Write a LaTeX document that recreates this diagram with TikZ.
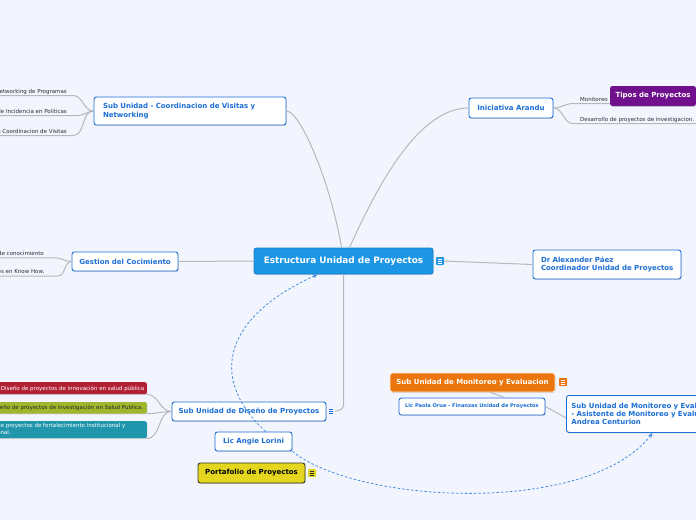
\documentclass[tikz,border=0pt]{standalone}
\usepackage{fontspec}
\setmainfont{DejaVu Sans}
\usetikzlibrary{shadows,arrows.meta}
\definecolor{bg}{RGB}{242,245,253}
\definecolor{nblue}{RGB}{28,110,212}
\definecolor{cfill}{RGB}{30,150,230}
\definecolor{cdraw}{RGB}{22,130,210}
\definecolor{link}{RGB}{182,184,190}
\definecolor{dashc}{RGB}{70,140,225}
\definecolor{subtxt}{RGB}{45,45,55}
\definecolor{purp}{RGB}{112,16,140}
\definecolor{orng}{RGB}{236,118,14}
\definecolor{orngdraw}{RGB}{250,235,215}
\definecolor{yell}{RGB}{228,214,30}
\definecolor{yelldraw}{RGB}{55,55,40}
\definecolor{redb}{RGB}{178,32,52}
\definecolor{oliveb}{RGB}{160,182,44}
\definecolor{tealb}{RGB}{32,150,172}
\newcommand\fTopic{\bfseries\fontsize{7}{8.3}\selectfont}
\newcommand\fCentral{\bfseries\fontsize{8.9}{10}\selectfont}
\newcommand\fSub{\fontsize{5.5}{6.6}\selectfont}
\newcommand\fSmall{\bfseries\fontsize{5.1}{6}\selectfont}
\newcommand\noteicon[4]{%
  \node[fill=#3, minimum size=8pt, inner sep=0pt, rounded corners=0.8pt] (#1) at #2 {};
  \foreach \dy in {-2,0,2}
    \draw[#4, line width=0.7pt] ([xshift=-2.4pt,yshift=\dy pt]#1.center) -- ([xshift=2.4pt,yshift=\dy pt]#1.center);
}
\begin{document}
\begin{tikzpicture}[x=1pt,y=-1pt,
  conn/.style={draw=link, line width=1pt},
  dasharrow/.style={draw=dashc, line width=0.8pt, dash pattern=on 2.5pt off 2pt, -{Stealth[length=5pt,width=4pt]}},
  shad/.style={drop shadow={opacity=0.3, shadow xshift=0.6pt, shadow yshift=-0.9pt}},
  topic/.style={draw=nblue, line width=0.9pt, fill=white, rounded corners=2.5pt, text=nblue, font=\fTopic, inner sep=0pt, shad},
  subt/.style={text=subtxt, font=\fSub, inner sep=0pt},
  cbox/.style={draw=none, rounded corners=2pt, inner sep=0pt, shad},
  ctext/.style={font=\fSub, inner sep=0pt}
]
\useasboundingbox (0,0) rectangle (696,520);
\clip (0,0) rectangle (696,520);
\fill[bg] (0,0) rectangle (696,520);

% ---- main nodes
\node[topic, draw=cdraw, fill=cfill, text=white, font=\fCentral, minimum width=179pt, minimum height=26pt] (central) at (343.5,261) {Estructura Unidad de Proyectos};
\noteicon{icC}{(440,261)}{cfill}{white}

\node[topic, minimum width=148pt, minimum height=29pt, text width=132pt, align=left] (alex) at (607,264.5) {Dr Alexander Páez\\\mbox{Coordinador Unidad de Proyectos}};

\node[topic, minimum width=84pt, minimum height=20pt] (arandu) at (511,108) {Iniciativa Arandu};

\node[topic, minimum width=192pt, minimum height=28pt, text width=174pt, align=left] (coord) at (190,111) {Sub Unidad - Coordinacion de Visitas y\\Networking};

\node[topic, minimum width=106pt, minimum height=19pt] (gestion) at (125,261.5) {Gestion del Cocimiento};

\node[topic, minimum width=154pt, minimum height=19pt] (diseno) at (249,411.5) {Sub Unidad de Diseño de Proyectos};
\node[minimum size=8pt, inner sep=0pt] (icD) at (331,411) {};
\foreach \dy in {-2,0,2}
  \draw[nblue, line width=0.7pt] ([xshift=-2.4pt,yshift=\dy pt]icD.center) -- ([xshift=2.4pt,yshift=\dy pt]icD.center);

\node[topic, minimum width=77pt, minimum height=19pt] (angie) at (253.5,441.5) {Lic Angie Lorini};

\node[topic, draw=yelldraw, fill=yell, text=black, minimum width=107pt, minimum height=20pt] (porta) at (251.5,473) {Portafolio de Proyectos};
\noteicon{icP}{(312,473)}{yell}{black!80}

\node[topic, draw=orngdraw, fill=orng, text=white, minimum width=165pt, minimum height=19pt] (monit) at (472.5,382.5) {Sub Unidad de Monitoreo y Evaluacion};
\noteicon{icM}{(563,382)}{orng}{white}

\node[topic, font=\fSmall, minimum width=146pt, minimum height=17pt] (paola) at (472,406.5) {Lic Paola Orue - Finanzas Unidad de Proyectos};

\node[topic, anchor=north west, minimum width=180pt, minimum height=37pt, text width=170pt, align=left] (andrea) at (566,395) {Sub Unidad de Monitoreo y Evaluacion\\- Asistente de Monitoreo y Evaluacion\\Andrea Centurion};

% ---- Iniciativa subtopics
\node[subt, anchor=base west] (m2) at (580,121) {Desarrollo de proyectos de investigacion.};
\node[subt, anchor=base west] (m1) at (580,101) {Monitoreo};
\draw[conn] (arandu.east) to[out=0,in=180] (573,103.5) -- (610,103.5);
\draw[conn] (arandu.east) to[out=0,in=180] (573,123.5) -- (696,123.5);
\node[cbox, fill=purp, text=white, font=\fTopic, minimum width=86pt, minimum height=20pt, rounded corners=2.5pt] (tipos) at (653,96) {Tipos de Proyectos};

% ---- Coordinacion subtopics
\node[subt, anchor=base east] (s1) at (67,93.3) {Networking de Programas};
\node[subt, anchor=base east] (s2) at (67,113.3) {Unidad de Incidencia en Politicas};
\node[subt, anchor=base east] (s3) at (67,133.3) {Sub Unidad de Coordinacion de Visitas};
\draw[conn] (coord.west) to[out=180,in=0] (73,95.5) -- (0,95.5);
\draw[conn] (coord.west) to[out=180,in=0] (78,115.5) -- (0,115.5);
\draw[conn] (coord.west) to[out=180,in=0] (73,135.5) -- (0,135.5);

% ---- Gestion subtopics
\node[subt, anchor=base east] (g1) at (44,255) {Gestion de conocimiento};
\node[subt, anchor=base east] (g2) at (44.5,273) {Capacitaciones en Know How.};
\draw[conn] (gestion.west) to[out=180,in=0] (55,257.8) -- (0,257.8);
\draw[conn] (gestion.west) to[out=180,in=0] (58,276) -- (0,276);

% ---- Diseno subtopics
\node[cbox, fill=redb, anchor=north east, minimum width=200pt, minimum height=12pt] (d1) at (147,382) {};
\node[ctext, text=white, anchor=base east] (d1t) at (144.5,390.4) {Diseño de proyectos de innovación en salud pública};
\node[cbox, fill=oliveb, anchor=north east, minimum width=200pt, minimum height=11.5pt] (d2) at (147,401.8) {};
\node[ctext, text=black!85, anchor=base east] (d2t) at (143.5,409.8) {Diseño de proyectos de investigación en Salud Publica.};
\node[cbox, fill=tealb, anchor=north east, minimum width=200pt, minimum height=17pt] (d3) at (147,421) {};
\node[ctext, text=white, anchor=north east, align=left, font=\fontsize{5.5}{6.4}\selectfont] (d3t) at (125.5,423.4) {Diseño de proyectos de fortalecimiento institucional y\\\hspace*{9.3pt}nacional.};
\draw[conn] (diseno.west) to[out=180,in=0] (d1.south east);
\draw[conn] (diseno.west) to[out=180,in=0] (d2.south east);
\draw[conn] (diseno.west) to[out=180,in=0] (d3.south east);

% ---- central connectors
\draw[conn] ([xshift=-2pt]central.north) .. controls (330,180) and (300,111) .. (coord.east);
\draw[conn] ([xshift=6pt]central.north) .. controls (380,180) and (420,108) .. (arandu.west);
\draw[conn] (central.west) -- (gestion.east);
\draw[conn] (icC.east) -- (alex.west);
\draw[conn] (central.south) -- (343.5,405) to[out=-90,in=0] (icD.east);
\draw[conn] ([xshift=18pt]monit.south) -- ([xshift=33pt]paola.north);
\draw[conn] (paola.east) -- ([yshift=-4pt]andrea.west);

% ---- dashed relations
\draw[dasharrow] ([xshift=12pt]angie.north) .. controls (205,375) and (228,315) .. ([xshift=-26pt]central.south);
\draw[dasharrow] (angie.south east) .. controls (360,505) and (590,515) .. ([xshift=-4pt]andrea.south);
\end{tikzpicture}
\end{document}
